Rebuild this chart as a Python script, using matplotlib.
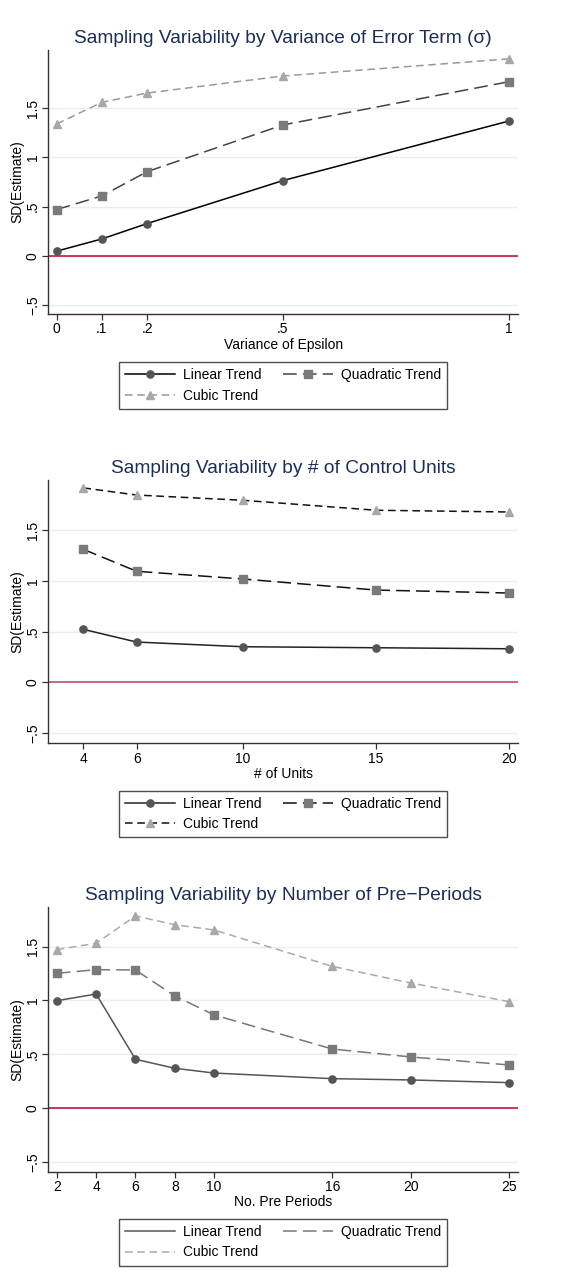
import matplotlib
matplotlib.use('Agg')
import matplotlib.pyplot as plt
from matplotlib.lines import Line2D

plt.rcParams['font.family'] = ['Liberation Sans', 'DejaVu Sans']

# variance of error term
eps_x = [0, 0.1, 0.2, 0.5, 1]
eps_linear = [0.048, 0.172, 0.328, 0.764, 1.369]
eps_quad = [0.47, 0.609, 0.855, 1.329, 1.768]
eps_cubic = [1.339, 1.559, 1.653, 1.826, 2.0]
eps_ticklabels = ['0', '.1', '.2', '.5', '1']

# number of control units
units_x = [4, 6, 10, 15, 20]
units_linear = [0.522, 0.397, 0.351, 0.341, 0.331]
units_quad = [1.310, 1.094, 1.018, 0.909, 0.880]
units_cubic = [1.915, 1.845, 1.793, 1.695, 1.678]
units_ticklabels = ['4', '6', '10', '15', '20']

# number of pre-periods
pre_x = [2, 4, 6, 8, 10, 16, 20, 25]
pre_linear = [0.998, 1.060, 0.455, 0.371, 0.327, 0.275, 0.263, 0.238]
pre_quad = [1.252, 1.286, 1.283, 1.042, 0.866, 0.550, 0.476, 0.402]
pre_cubic = [1.472, 1.531, 1.784, 1.703, 1.654, 1.317, 1.162, 0.989]
pre_ticklabels = ['2', '4', '6', '8', '10', '16', '20', '25']

y_ticks = [-0.5, 0, 0.5, 1, 1.5]
y_ticklabels = ['\u2212.5', '0', '.5', '1', '1.5']

W, H = 561, 1281
TITLE_C = '#1c2d57'
GRID_C = '#e6eff1'


def px_axes(fig, left, right, top, bottom):
    return fig.add_axes([left / W, 1 - bottom / H, (right - left) / W, (bottom - top) / H])


def style_axes(ax, xticks, xticklabels, xlabel, title, zero_color):
    for s in ['top', 'right']:
        ax.spines[s].set_visible(False)
    for s in ['left', 'bottom']:
        ax.spines[s].set_color('#333333')
        ax.spines[s].set_linewidth(1.0)
    ax.set_yticks(y_ticks)
    ax.set_yticklabels(y_ticklabels, rotation=90, va='center', fontsize=10)
    ax.set_xticks(xticks)
    ax.set_xticklabels(xticklabels, fontsize=10)
    ax.tick_params(length=4, width=0.9, color='#333333', pad=2)
    for y in y_ticks:
        ax.axhline(y, color=GRID_C, lw=1.0, zorder=0)
    ax.axhline(0, color=zero_color, lw=1.2, zorder=1)
    ax.set_xlabel(xlabel, fontsize=10, labelpad=1)
    ax.set_ylabel('SD(Estimate)', fontsize=10, labelpad=1)
    ax.set_title(title, fontsize=13.8, color=TITLE_C, pad=5)


def add_legend(fig, handles, top):
    lab = ['Linear Trend', 'Cubic Trend', 'Quadratic Trend']
    leg = fig.legend(handles, lab, ncol=2, loc='upper center',
                     bbox_to_anchor=(283 / W, 1 - top / H), fontsize=10,
                     frameon=True, fancybox=False, handlelength=3.6,
                     columnspacing=1.6, handletextpad=0.55, borderpad=0.45,
                     labelspacing=0.45, borderaxespad=0)
    fr = leg.get_frame()
    fr.set_edgecolor('#222222')
    fr.set_linewidth(1.0)


fig = plt.figure(figsize=(W / 100, H / 100), dpi=100)
fig.patch.set_facecolor('white')

# panel 1: variance of epsilon
ax1 = px_axes(fig, 48.3, 518, 50, 314)
l1, = ax1.plot(eps_x, eps_linear, color='black', lw=1.1, marker='o', ms=5.2,
               mfc='#555555', mec='#555555')
q1, = ax1.plot(eps_x, eps_quad, color='#444444', lw=1.1, dashes=(9, 4),
               marker='s', ms=5.3, mfc='#7a7a7a', mec='#7a7a7a')
c1, = ax1.plot(eps_x, eps_cubic, color='#999999', lw=1.1, dashes=(5, 3),
               marker='^', ms=5.8, mfc='#a8a8a8', mec='#a8a8a8')
ax1.set_xlim(-0.0185, 1.02)
ax1.set_ylim(-0.59, 2.09)
style_axes(ax1, eps_x, eps_ticklabels, 'Variance of Epsilon',
           'Sampling Variability by Variance of Error Term (\u03c3)', '#c8143c')
add_legend(fig, [l1, c1, q1], 362)

# panel 2: number of control units
ax2 = px_axes(fig, 48.3, 518, 480, 743.3)
l2, = ax2.plot(units_x, units_linear, color='#222222', lw=1.1, marker='o', ms=5.2,
               mfc='#555555', mec='#555555')
q2, = ax2.plot(units_x, units_quad, color='#111111', lw=1.1, dashes=(9, 4),
               marker='s', ms=5.3, mfc='#7a7a7a', mec='#7a7a7a')
c2, = ax2.plot(units_x, units_cubic, color='#111111', lw=1.1, dashes=(5, 3),
               marker='^', ms=5.8, mfc='#a8a8a8', mec='#a8a8a8')
ax2.set_xlim(2.68, 20.33)
ax2.set_ylim(-0.6, 1.993)
style_axes(ax2, units_x, units_ticklabels, '# of Units',
           'Sampling Variability by # of Control Units', '#c4506f')
add_legend(fig, [l2, c2, q2], 790.7)

# panel 3: number of pre-periods
ax3 = px_axes(fig, 48.3, 518, 906.7, 1171.7)
ax3.plot(pre_x, pre_linear, color='#555555', lw=1.1, marker='o', ms=5.2,
         mfc='#555555', mec='#555555')
ax3.plot(pre_x, pre_quad, color='#777777', lw=1.1, dashes=(9, 4),
         marker='s', ms=5.3, mfc='#7a7a7a', mec='#7a7a7a')
ax3.plot(pre_x, pre_cubic, color='#aaaaaa', lw=1.1, dashes=(5, 3),
         marker='^', ms=5.8, mfc='#a8a8a8', mec='#a8a8a8')
ax3.set_xlim(1.57, 25.44)
ax3.set_ylim(-0.588, 1.87)
style_axes(ax3, pre_x, pre_ticklabels, 'No. Pre Periods',
           'Sampling Variability by Number of Pre\u2212Periods', '#c8143c')
h3 = [Line2D([], [], color='#555555', lw=1.1),
      Line2D([], [], color='#aaaaaa', lw=1.1, dashes=(5, 3)),
      Line2D([], [], color='#777777', lw=1.1, dashes=(9, 4))]
add_legend(fig, h3, 1219)

fig.savefig('out.png', dpi=100)
